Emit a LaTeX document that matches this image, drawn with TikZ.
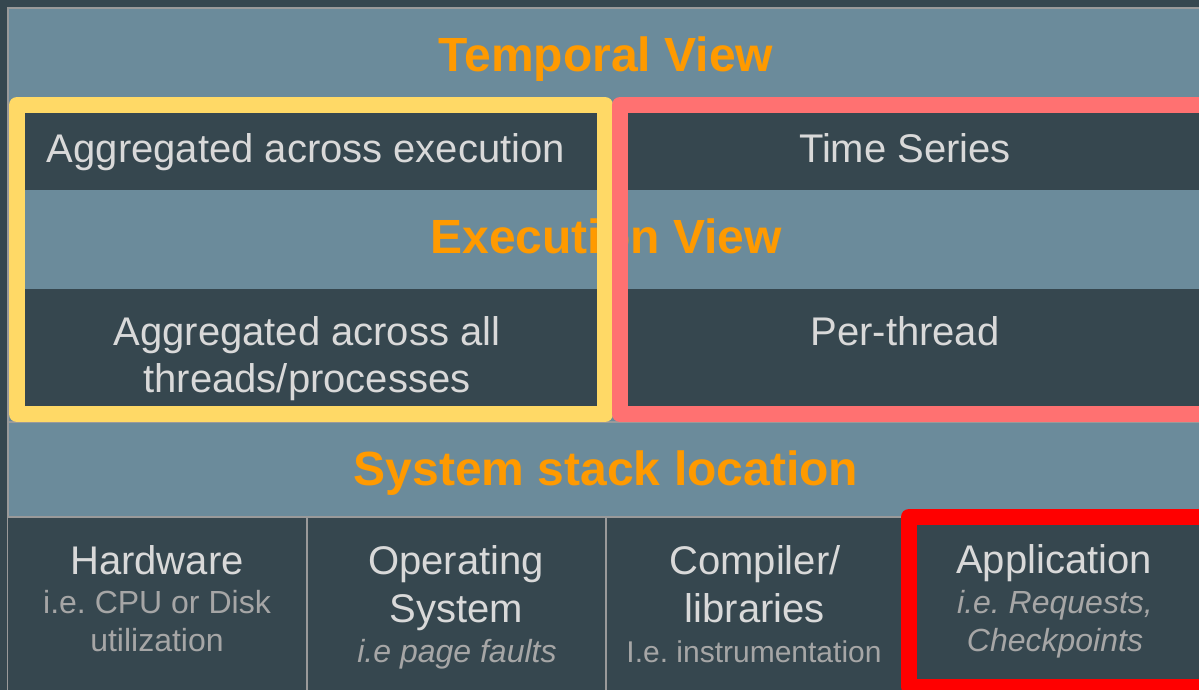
\documentclass[tikz,border=0pt]{standalone}
\usepackage{fontspec}
\setmainfont{Liberation Sans}
\frenchspacing
\definecolor{pagebg}{HTML}{36474F}
\definecolor{panelbg}{HTML}{6B8B9B}
\definecolor{cellbg}{HTML}{36474F}
\definecolor{gridgray}{HTML}{9A9A9A}
\definecolor{txtmain}{HTML}{D9D9D9}
\definecolor{txtsub}{HTML}{A6A6A6}
\definecolor{headorange}{HTML}{FF9A00}
\definecolor{aggyellow}{HTML}{FFD966}
\definecolor{seriesred}{HTML}{FF7171}
\definecolor{apphighlight}{HTML}{FF0000}

\tikzset{
  lbl/.style={anchor=base, inner sep=0pt, text=txtmain, font=\fontsize{40}{48}\selectfont},
  sublbl/.style={anchor=base, inner sep=0pt, text=txtsub, font=\fontsize{32}{38}\selectfont},
  subital/.style={anchor=base, inner sep=0pt, text=txtsub, font=\fontsize{32}{38}\selectfont\itshape},
  heading/.style={anchor=base, inner sep=0pt, text=headorange, font=\fontsize{48}{56}\selectfont\bfseries},
  gridline/.style={draw=gridgray, line width=1.5},
  frame/.style={line width=16, line join=round},
}

\begin{document}
\begin{tikzpicture}[x=1pt, y=-1pt]
\useasboundingbox (0,0) rectangle (1199,690);
\clip (0,0) rectangle (1199,690);

% page and table panel
\fill[pagebg] (0,0) rectangle (1199,690);
\fill[panelbg] (8,8) rectangle (1215,700);
\draw[gridline] (8,700) -- (8,8) -- (1215,8);

% dark cells of the two view rows
\fill[cellbg] (9,113) rectangle (606,190);
\fill[cellbg] (606,113) rectangle (1215,190);
\fill[cellbg] (9,289) rectangle (606,406);
\fill[cellbg] (606,289) rectangle (1215,406);
\draw[gridline] (8,422) -- (1215,422);

% bottom row: system stack cells
\fill[cellbg] (8,518) rectangle (1215,700);
\draw[gridline] (8,517) -- (1215,517);
\draw[gridline] (307,517) -- (307,700);
\draw[gridline] (606,517) -- (606,700);
\draw[gridline] (905,517) -- (905,700);

% headings
\node[heading] (temporal) at (606,72) {Temporal View};
\node[heading] (execution) at (606,253) {Execution View};
\node[heading] (stack) at (606,485) {System stack location};

% temporal view row
\node[lbl] (aggexec) at (306,162) {Aggregated across execution};
\node[lbl] (series) at (905,162) {Time Series};

% execution view row
\node[lbl] (aggall) at (307,345) {Aggregated across all};
\node[lbl] (aggall2) at (307,392) {threads/processes};
\node[lbl] (perthread) at (905,345) {Per-thread};

% system stack cells
\node[lbl] (hw) at (157,574) {Hardware};
\node[sublbl] (hwsub) at (157,613) {i.e. CPU or Disk};
\node[sublbl] (hwsub2) at (157,651) {utilization};

\node[lbl] (os) at (456,574) {Operating};
\node[lbl] (os2) at (456,622) {System};
\node[subital] (ossub) at (457,662) {i.e page faults};

\node[lbl] (comp) at (755,574) {Compiler/};
\node[lbl] (comp2) at (755,622) {libraries};
\node[sublbl, font=\fontsize{30}{36}\selectfont] (compsub) at (754,662) {I.e. instrumentation};

\node[lbl] (app) at (1054,573) {Application};
\node[subital] (appsub) at (1055,613) {i.e. Requests,};
\node[subital] (appsub2) at (1055,651) {Checkpoints};

% highlight frames
\draw[frame, aggyellow] (17,105) rectangle (605,414);
\draw[frame, seriesred] (620,105) rectangle (1225,414);
\draw[frame, apphighlight] (909,517) rectangle (1225,687);
\end{tikzpicture}
\end{document}
